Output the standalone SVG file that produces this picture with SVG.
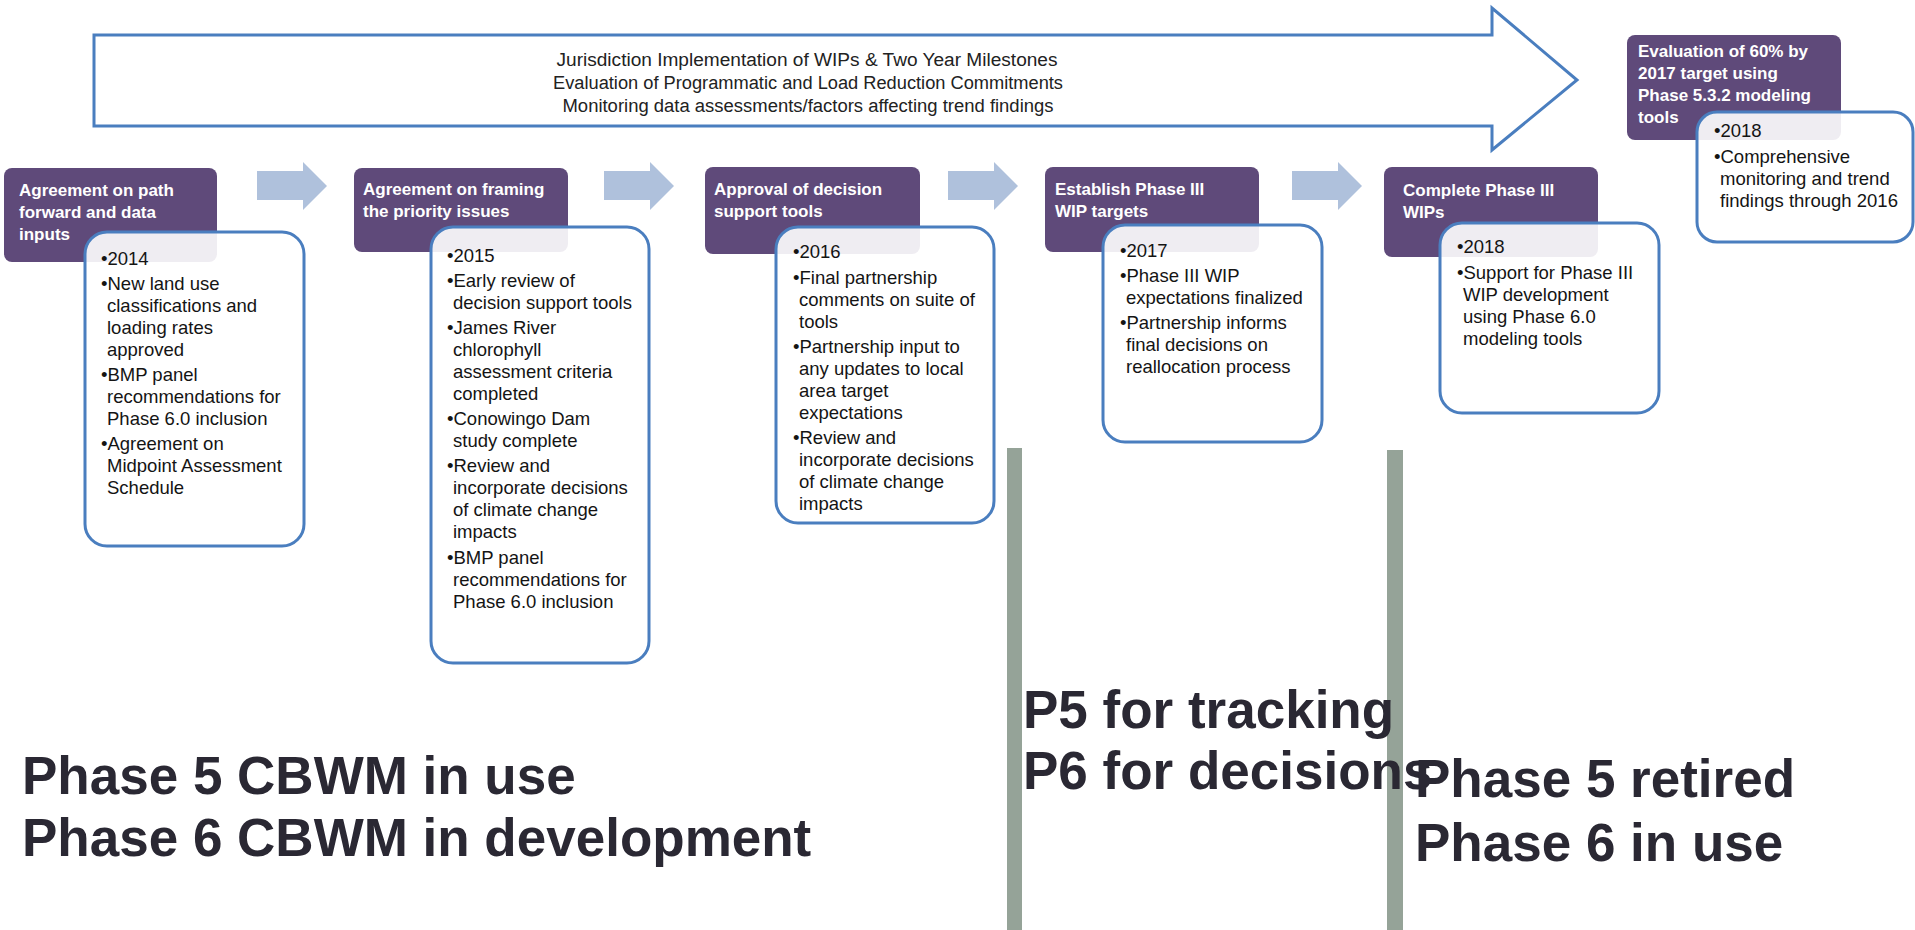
<svg xmlns="http://www.w3.org/2000/svg" width="1915" height="930" viewBox="0 0 1915 930">
  <defs>
    <style>
      .stage { fill: #5f4a7a; }
      .stage-title { font-family: "Liberation Sans", Arial, sans-serif; font-weight: bold; font-size: 17px; fill: #ffffff; }
      .detail { fill: #ffffff; fill-opacity: 0.9; stroke: #4a7ebf; stroke-width: 3; }
      .detail-text { font-family: "Liberation Sans", Arial, sans-serif; font-size: 18.5px; fill: #141414; }
      .step { fill: #afc1dc; }
      .banner { fill: #ffffff; stroke: #4a7ebf; stroke-width: 3; stroke-linejoin: miter; }
      .banner-text { font-family: "Liberation Sans", Arial, sans-serif; font-size: 18px; fill: #222222; }
      .divider { fill: #95a398; }
      .status { font-family: "Liberation Sans", Arial, sans-serif; font-weight: bold; font-size: 53px; fill: #2a2833; }
    </style>
  </defs>

  <rect width="1915" height="930" fill="#ffffff"/>

  <!-- Long arrow spanning the whole period -->
  <g id="banner">
    <path class="banner" d="M94,35 H1492 V8 L1577,80 L1492,150 V126 H94 Z"/>
    <text class="banner-text" x="807" y="66" text-anchor="middle" textLength="501" lengthAdjust="spacingAndGlyphs">Jurisdiction Implementation of  WIPs &amp; Two Year Milestones</text>
    <text class="banner-text" x="808" y="89" text-anchor="middle" textLength="510" lengthAdjust="spacingAndGlyphs">Evaluation of Programmatic and Load Reduction Commitments</text>
    <text class="banner-text" x="808" y="112" text-anchor="middle" textLength="491" lengthAdjust="spacingAndGlyphs">Monitoring data assessments/factors affecting trend findings</text>
  </g>

  <!-- Step arrows between stages -->
  <g id="connectors">
    <path class="step" d="M257,171 H303 V162 L327,186 L303,210 V200 H257 Z"/>
    <path class="step" d="M604,171 H650 V162 L674,186 L650,210 V200 H604 Z"/>
    <path class="step" d="M948,171 H994 V162 L1018,186 L994,210 V200 H948 Z"/>
    <path class="step" d="M1292,171 H1338 V162 L1362,186 L1338,210 V200 H1292 Z"/>
  </g>

  <!-- Model transition dividers -->
  <g id="dividers">
    <rect class="divider" x="1007" y="448" width="15" height="482"/>
    <rect class="divider" x="1387" y="450" width="16" height="480"/>
  </g>

  <!-- Stage 1 -->
  <g id="stage-2014">
    <rect class="stage" x="4" y="168" width="213" height="94" rx="8"/>
    <text class="stage-title" x="19" y="196">Agreement on path</text>
    <text class="stage-title" x="19" y="218">forward and data</text>
    <text class="stage-title" x="19" y="240">inputs</text>
    <rect class="detail" x="85" y="232" width="219" height="314" rx="22"/>
    <text class="detail-text">
      <tspan x="101" y="265">•2014</tspan>
      <tspan x="101" y="290">•New land use</tspan>
      <tspan x="107" y="312">classifications and</tspan>
      <tspan x="107" y="334">loading rates</tspan>
      <tspan x="107" y="356">approved</tspan>
      <tspan x="101" y="381">•BMP panel</tspan>
      <tspan x="107" y="403">recommendations for</tspan>
      <tspan x="107" y="425">Phase 6.0 inclusion</tspan>
      <tspan x="101" y="450">•Agreement on</tspan>
      <tspan x="107" y="472">Midpoint Assessment</tspan>
      <tspan x="107" y="494">Schedule</tspan>
    </text>
  </g>

  <!-- Stage 2 -->
  <g id="stage-2015">
    <rect class="stage" x="354" y="168" width="214" height="84" rx="8"/>
    <text class="stage-title" x="363" y="195">Agreement on framing</text>
    <text class="stage-title" x="363" y="217">the priority issues</text>
    <rect class="detail" x="431" y="227" width="218" height="436" rx="22"/>
    <text class="detail-text">
      <tspan x="447" y="262">•2015</tspan>
      <tspan x="447" y="287">•Early review of</tspan>
      <tspan x="453" y="309">decision support tools</tspan>
      <tspan x="447" y="334">•James River</tspan>
      <tspan x="453" y="356">chlorophyll</tspan>
      <tspan x="453" y="378">assessment criteria</tspan>
      <tspan x="453" y="400">completed</tspan>
      <tspan x="447" y="425">•Conowingo Dam</tspan>
      <tspan x="453" y="447">study complete</tspan>
      <tspan x="447" y="472">•Review and</tspan>
      <tspan x="453" y="494">incorporate decisions</tspan>
      <tspan x="453" y="516">of climate change</tspan>
      <tspan x="453" y="538">impacts</tspan>
      <tspan x="447" y="564">•BMP panel</tspan>
      <tspan x="453" y="586">recommendations for</tspan>
      <tspan x="453" y="608">Phase 6.0 inclusion</tspan>
    </text>
  </g>

  <!-- Stage 3 -->
  <g id="stage-2016">
    <rect class="stage" x="705" y="167" width="215" height="87" rx="8"/>
    <text class="stage-title" x="714" y="195">Approval of decision</text>
    <text class="stage-title" x="714" y="217">support tools</text>
    <rect class="detail" x="776" y="227" width="218" height="296" rx="22"/>
    <text class="detail-text">
      <tspan x="793" y="258">•2016</tspan>
      <tspan x="793" y="284">•Final partnership</tspan>
      <tspan x="799" y="306">comments  on suite of</tspan>
      <tspan x="799" y="328">tools</tspan>
      <tspan x="793" y="353">•Partnership input to</tspan>
      <tspan x="799" y="375">any updates to local</tspan>
      <tspan x="799" y="397">area target</tspan>
      <tspan x="799" y="419">expectations</tspan>
      <tspan x="793" y="444">•Review and</tspan>
      <tspan x="799" y="466">incorporate decisions</tspan>
      <tspan x="799" y="488">of climate change</tspan>
      <tspan x="799" y="510">impacts</tspan>
    </text>
  </g>

  <!-- Stage 4 -->
  <g id="stage-2017">
    <rect class="stage" x="1045" y="167" width="214" height="85" rx="8"/>
    <text class="stage-title" x="1055" y="195">Establish Phase III</text>
    <text class="stage-title" x="1055" y="217">WIP targets</text>
    <rect class="detail" x="1103" y="225" width="219" height="217" rx="22"/>
    <text class="detail-text">
      <tspan x="1120" y="257">•2017</tspan>
      <tspan x="1120" y="282">•Phase III WIP</tspan>
      <tspan x="1126" y="304">expectations finalized</tspan>
      <tspan x="1120" y="329">•Partnership informs</tspan>
      <tspan x="1126" y="351">final decisions on</tspan>
      <tspan x="1126" y="373">reallocation process</tspan>
    </text>
  </g>

  <!-- Stage 5 -->
  <g id="stage-2018">
    <rect class="stage" x="1384" y="167" width="214" height="90" rx="8"/>
    <text class="stage-title" x="1403" y="196">Complete Phase III</text>
    <text class="stage-title" x="1403" y="218">WIPs</text>
    <rect class="detail" x="1440" y="223" width="219" height="190" rx="22"/>
    <text class="detail-text">
      <tspan x="1457" y="253">•2018</tspan>
      <tspan x="1457" y="279">•Support for Phase III</tspan>
      <tspan x="1463" y="301">WIP development</tspan>
      <tspan x="1463" y="323">using Phase 6.0</tspan>
      <tspan x="1463" y="345">modeling tools</tspan>
    </text>
  </g>

  <!-- Evaluation of the 2017 target -->
  <g id="stage-evaluation">
    <rect class="stage" x="1627" y="35" width="214" height="105" rx="8"/>
    <text class="stage-title" x="1638" y="57">Evaluation of 60% by</text>
    <text class="stage-title" x="1638" y="79">2017 target using</text>
    <text class="stage-title" x="1638" y="101">Phase 5.3.2 modeling</text>
    <text class="stage-title" x="1638" y="123">tools</text>
    <rect class="detail" x="1697" y="112" width="216" height="130" rx="20"/>
    <text class="detail-text">
      <tspan x="1714" y="137">•2018</tspan>
      <tspan x="1714" y="163">•Comprehensive</tspan>
      <tspan x="1720" y="185">monitoring and trend</tspan>
      <tspan x="1720" y="207">findings through 2016</tspan>
    </text>
  </g>

  <!-- Model status for each period -->
  <g id="status-early">
    <text class="status" x="22" y="794">Phase 5 CBWM in use</text>
    <text class="status" x="22" y="856">Phase 6 CBWM in development</text>
  </g>
  <g id="status-transition">
    <text class="status" x="1023" y="728">P5 for tracking</text>
    <text class="status" x="1023" y="789">P6 for decisions</text>
  </g>
  <g id="status-late">
    <text class="status" x="1415" y="797">Phase 5 retired</text>
    <text class="status" x="1415" y="861">Phase 6 in use</text>
  </g>
</svg>
